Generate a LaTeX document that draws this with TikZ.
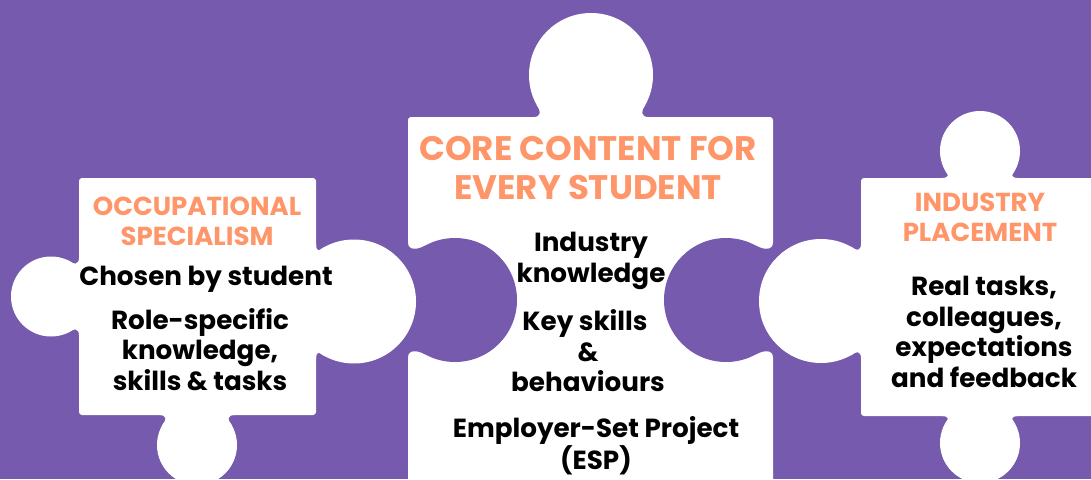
\documentclass[tikz,border=0pt]{standalone}
\usepackage{fontspec}
\setmainfont{Poppins}[BoldFont={* Bold}]
\definecolor{pieceback}{HTML}{755AAD}
\definecolor{headorange}{HTML}{FF9669}
\newcommand{\knob}[7]{%
  \begin{scope}[shift={(#1,#2)},rotate=#3]
    \pgfmathsetmacro{\hh}{sqrt((#5)*(#5)-(#4-#6)*(#4-#6))}
    \pgfmathsetmacro{\hb}{\hh+3}
    \pgfmathsetmacro{\hc}{\hh-4.5}
    \pgfmathsetmacro{\am}{0.5*#6}
    \fill[#7] (#4,0) circle[radius=#5pt];
    \fill[#7] (-1,\hb) -- (0,\hb) .. controls (0,\hc) and (\am,\hc) .. (#6,\hh)
      -- (#4,0) -- (#6,-\hh) .. controls (\am,-\hc) and (0,-\hc) .. (0,-\hb) -- (-1,-\hb) -- cycle;
  \end{scope}}
\tikzset{
  piecebody/.style={fill=white,rounded corners=3pt},
  headtext/.style={text=headorange,font=\bfseries\fontsize{#1}{#1}\selectfont,align=center,inner sep=0pt},
  bodytext/.style={text=black,font=\bfseries\fontsize{26.2}{30.5}\selectfont,align=center,inner sep=0pt}
}
\begin{document}
\begin{tikzpicture}[x=1pt,y=-1pt]
\useasboundingbox (0,0) rectangle (1091,479);
\clip (0,0) rectangle (1091,479);
\fill[pieceback] (0,0) rectangle (1091,479);
% bodies
\path[piecebody] (79,178) rectangle (316,415);
\path[piecebody] (408,117) rectangle (773,485);
\path[piecebody] (861,178) rectangle (1110,416);
% sockets of the centre piece
\knob{408}{300}{0}{47}{62}{17}{pieceback}
\knob{773}{300}{180}{47}{62}{17}{pieceback}
% tabs
\knob{79}{296.5}{180}{28}{40}{10.5}{white}
\knob{316}{301.5}{0}{38}{62}{8}{white}
\knob{197}{415}{-90}{30}{40}{10}{white}
\knob{591}{117}{90}{42}{62}{12}{white}
\knob{861}{301}{180}{40}{62}{10}{white}
\knob{980}{178}{90}{27}{40}{8}{white}
\knob{980}{416}{-90}{27}{40}{8}{white}
% text
\node[headtext=26] (occ) at (197,221.5) {OCCUPATIONAL\\[3.5pt]SPECIALISM};
\node[bodytext] (chosen) at (206,279) {Chosen by student};
\node[bodytext] (role) at (200,349.5) {Role-specific\\knowledge,\\skills \& tasks};
\node[headtext=34] (core) at (588,168.5) {CORE CONTENT FOR\\[5pt]EVERY STUDENT};
\node[bodytext] (ind) at (591,261) {Industry\\knowledge};
\node[bodytext] (key) at (588,351) {Key skills\hspace*{6pt}\\\&\\behaviours};
\node[bodytext] (esp) at (596,445.5) {Employer-Set Project\\(ESP)};
\node[headtext=26] (plc) at (980,217.5) {INDUSTRY\\[3.5pt]PLACEMENT};
\node[bodytext] (real) at (984,332) {Real tasks,\\colleagues,\\expectations\\and feedback};
\end{tikzpicture}
\end{document}
